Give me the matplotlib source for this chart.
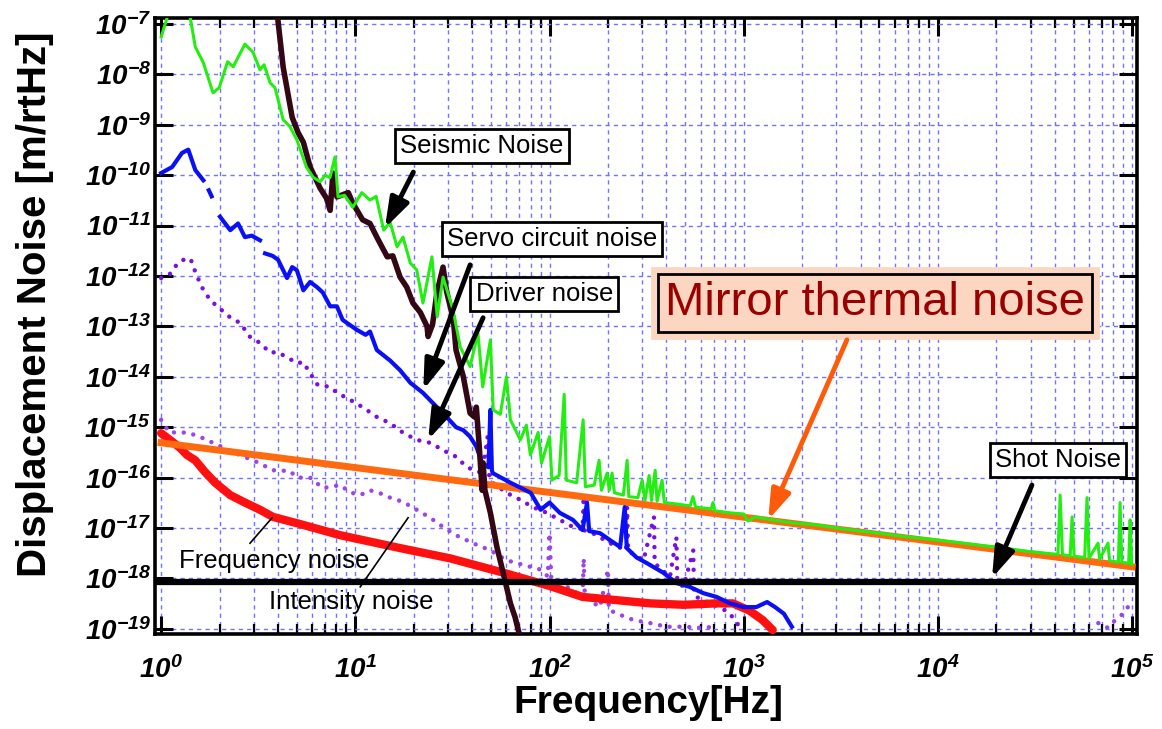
import numpy as np
import matplotlib
matplotlib.use("Agg")
import matplotlib.pyplot as plt
from matplotlib.ticker import LogLocator, NullLocator, NullFormatter, FuncFormatter

plt.rcParams['font.family'] = ['Liberation Sans', 'DejaVu Sans']
plt.rcParams['mathtext.fontset'] = 'custom'
plt.rcParams['mathtext.rm'] = 'Liberation Sans:italic:bold'
plt.rcParams['mathtext.it'] = 'Liberation Sans:italic:bold'
plt.rcParams['mathtext.bf'] = 'Liberation Sans:italic:bold'

# ---- measured spectra (frequency in Hz, displacement in m/rtHz) ----
green_f = [1.00, 1.09, 1.40, 1.50, 1.65, 1.85, 1.99, 2.20, 2.35, 2.70, 2.97, 3.23, 3.39, 3.64,
           3.86, 4.25, 4.61, 5.00, 5.60, 6.06, 6.59, 7.00, 7.40, 7.86, 8.15, 8.80, 9.70, 10.8,
           11.9, 12.8, 14.0, 15.1, 16.4, 17.6, 19.2, 20.7, 22.3, 24.8, 26.4, 28.3, 31.9, 34.7,
           39.0, 42.8, 45.3, 49.6, 51.3, 55.8, 60.0, 62.9, 70.8, 76.0, 79.7, 87.4, 91.0, 100,
           103, 112, 119, 122, 138, 149, 153, 170, 180, 185, 198, 203, 210, 216, 240, 251, 256,
           285, 300, 310, 326, 335, 350, 358, 380, 390, 450, 530, 548, 565, 680, 695, 710, 850,
           1000, 1050, 1150, 1400, 1800, 2300, 3000, 4000, 5000, 6500, 8000, 10000, 13000,
           17000, 22000, 28000, 35000, 41500, 42600, 43800, 48000, 49100, 50300, 57000, 58600,
           60000, 66800, 68000, 75200, 76500, 85000, 86700, 88500, 96000, 97700, 99500]
green_x = [5.5e-8, 1.6e-7, 1.6e-7, 3.5e-8, 1.7e-8, 4.3e-9, 5.4e-9, 1.78e-8, 1.41e-8, 3.98e-8,
           2.75e-8, 1.23e-8, 1.55e-8, 6.8e-9, 5.4e-9, 1.26e-9, 9.1e-10, 5.0e-10, 1.45e-10,
           9.1e-11, 7.4e-11, 1.0e-10, 8.9e-11, 2.3e-10, 3.7e-11, 4.0e-11, 2.3e-11, 4.5e-11,
           3.2e-11, 3.8e-11, 8.1e-12, 1.17e-11, 3.8e-12, 5.9e-12, 1.8e-12, 1.32e-12, 2.9e-13,
           2.4e-12, 1.55e-13, 9.5e-13, 2.1e-13, 3.9e-14, 1.6e-14, 7.4e-14, 6.3e-15, 5.4e-14,
           2.2e-15, 1.8e-15, 1.0e-14, 1.4e-15, 5.6e-16, 1.1e-15, 2.8e-16, 7.9e-16, 1.95e-16,
           6.5e-16, 8.9e-17, 1.1e-16, 4.5e-15, 8.9e-17, 7.9e-17, 1.4e-15, 6.6e-17, 7.1e-17,
           2.2e-16, 5.6e-17, 1.23e-16, 5.6e-17, 1.23e-16, 5.0e-17, 4.5e-17, 2.2e-16, 4.2e-17,
           4.0e-17, 8.9e-17, 3.5e-17, 1.1e-16, 3.5e-17, 1.4e-16, 3.4e-17, 8.9e-17, 3.2e-17,
           3.0e-17, 2.75e-17, 4.2e-17, 2.6e-17, 2.4e-17, 3.2e-17, 2.2e-17, 2.0e-17, 1.9e-17,
           1.38e-17, 1.66e-17, 1.45e-17, 1.26e-17, 1.17e-17, 1.0e-17, 8.7e-18, 7.9e-18,
           6.9e-18, 6.3e-18, 5.75e-18, 5.1e-18, 4.5e-18, 4.0e-18, 3.5e-18, 3.2e-18, 3.0e-18,
           4.5e-17, 2.95e-18, 2.8e-18, 1.66e-17, 2.75e-18, 2.6e-18, 4.0e-17, 2.5e-18, 5.0e-18,
           2.4e-18, 5.0e-18, 2.25e-18, 2.1e-18, 3.2e-17, 2.1e-18, 2.0e-18, 1.45e-17, 1.9e-18]

seismic_f = [3.96, 4.25, 4.73, 5.08, 5.40, 5.85, 6.59, 7.10, 7.42, 7.67, 8.04, 9.20, 9.70,
             10.9, 11.9, 12.9, 14.6, 15.6, 17.0, 18.4, 19.8, 21.6, 23.4, 23.7, 25.0, 26.3,
             28.3, 29.5, 32.0, 33.0, 36.0, 39.0, 41.0, 42.0, 43.5, 45.0, 45.5, 46.5, 49.6,
             53.6, 57.7, 62.9, 66.5, 69.0, 71.0]
seismic_x = [1.6e-7, 1.4e-8, 1.4e-9, 6.9e-10, 4.5e-10, 1.45e-10, 5.5e-11, 3.5e-11, 2.0e-11,
             1.1e-10, 3.7e-11, 4.5e-11, 2.8e-11, 1.3e-11, 1.1e-11, 5.9e-12, 2.4e-12, 2.5e-12,
             9.5e-13, 6.0e-13, 2.9e-13, 1.9e-13, 1.0e-13, 6.3e-14, 1.1e-13, 4.6e-13, 1.5e-12,
             5.0e-13, 1.35e-13, 3.4e-14, 1.0e-14, 1.9e-15, 1.6e-15, 2.5e-15, 4.0e-16, 5.6e-17,
             1.95e-16, 5.6e-17, 2.0e-17, 4.2e-18, 1.3e-18, 3.2e-19, 1.7e-19, 9.5e-20, 6.3e-20]

servo_f = [1.00, 1.14, 1.28, 1.38, 1.50, 1.65, 1.72, 1.76, 1.82, 1.88, 2.01, 2.27, 2.49,
           2.70, 2.93, 3.23, 3.35, 3.43, 3.75, 4.00, 4.45, 4.73, 5.00, 5.40, 5.85, 6.35, 6.80,
           7.42, 8.04, 8.60, 9.06, 10.2, 11.3, 11.9, 12.9, 15.1, 17.0, 19.2, 22.3, 26.3, 29.5,
           33.0, 36.0, 39.0, 42.0, 45.0, 48.5, 49.6, 50.5, 51.0, 63.0, 80.0, 90.0, 100, 113,
           132, 148, 156, 160, 182, 205, 231, 244, 250, 281, 318, 385, 450, 527, 620, 725, 850,
           1000, 1160, 1320, 1450, 1610, 1770]
servo_x = [1.1e-10, 1.45e-10, 2.75e-10, 3.2e-10, 1.26e-10, 7.9e-11, np.nan, 5.0e-11, 3.8e-11,
           np.nan, 1.5e-11, 8.1e-12, 1.1e-11, 5.9e-12, 6.3e-12, 5.1e-12, np.nan, 2.8e-12,
           2.5e-12, 2.1e-12, 9.1e-13, 1.5e-12, 1.3e-12, 5.2e-13, 7.6e-13, 6.0e-13, 4.7e-13,
           2.5e-13, 2.5e-13, 1.35e-13, 1.17e-13, 8.5e-14, 6.8e-14, 7.9e-14, 3.4e-14, 2.1e-14,
           1.35e-14, 7.6e-15, 4.8e-15, 2.5e-15, 1.6e-15, 1.0e-15, 8.7e-16, 6.5e-16, 4.1e-16,
           1.95e-16, 1.6e-16, 2.2e-15, 1.4e-16, 1.23e-16, 7.9e-17, 5.0e-17, 2.3e-17, 3.2e-17,
           2.0e-17, 1.45e-17, 9.1e-18, 3.2e-17, 8.7e-18, 7.9e-18, 5.75e-18, 4.2e-18, 2.6e-17,
           4.0e-18, 2.6e-18, 2.0e-18, 1.3e-18, 8.1e-19, 6.8e-19, 5.1e-19, 4.3e-19, 3.2e-19,
           2.7e-19, 2.7e-19, 3.4e-19, 2.7e-19, 2.0e-19, 1.1e-19]

driver_f = [1.00, 1.11, 1.22, 1.36, 1.43, 1.50, 1.62, 1.79, 1.97, 2.27, 2.55, 2.87, 3.23,
            3.64, 3.95, 4.45, 5.00, 5.40, 5.85, 6.40, 7.42, 8.06, 9.40, 10.9, 12.9, 15.1, 17.6,
            20.7, 24.3, 28.3, 33.0, 37.6, 45.0, 48.0, 49.0, 51.0, 60.0, 71.0, 82.0, 97.0, 113,
            132, 148, 150, 152, 167, 205, 248, 251, 254, 305, 345, 348, 417, 450, 455, 490,
            550, 555, 570, 670, 755, 850, 920, 1000]
driver_x = [9.1e-13, 1.1e-12, 1.8e-12, 2.3e-12, 2.0e-12, 1.2e-12, 6.0e-13, 3.3e-13, 2.4e-13,
            1.5e-13, 1.17e-13, 6.2e-14, 4.7e-14, 3.0e-14, 3.1e-14, 2.45e-14, 1.86e-14, 1.95e-14,
            1.17e-14, 6.9e-15, 6.3e-15, 4.8e-15, 3.5e-15, 2.5e-15, 1.6e-15, 1.2e-15, 7.8e-16,
            5.6e-16, 4.9e-16, 3.5e-16, 2.6e-16, 1.6e-16, 1.23e-16, 6.5e-16, 1.0e-16, 7.9e-17,
            5.0e-17, 3.6e-17, 2.6e-17, 2.0e-17, 1.45e-17, 1.05e-17, 9.5e-18, 4.2e-17, 8.9e-18,
            7.9e-18, 5.0e-18, 3.6e-18, 2.6e-17, 3.5e-18, 2.3e-18, 1.66e-17, 2.0e-18, 1.07e-18,
            6.6e-18, 8.9e-19, 6.8e-19, 3.6e-18, 5.0e-19, 4.3e-19, 3.2e-19, 2.7e-19, 2.0e-19,
            1.3e-19, 9.5e-20]

intensity_f = [1.00, 1.10, 1.38, 1.62, 1.94, 2.35, 3.15, 3.77, 4.61, 5.00, 5.85, 6.80, 8.36,
               9.40, 10.6, 11.9, 13.4, 15.1, 17.6, 20.7, 24.3, 28.3, 33.0, 40.3, 49.6, 60.0,
               73.0, 89.8, 98.0, 100, 102, 123, 148, 150, 152, 182, 200, 202, 223, 270, 330,
               400, 490, 600, 725, 5000, 67000, 75000, 82000, 90000, 97000, 100000]
intensity_x = [1.4e-15, 7.9e-16, 7.8e-16, 6.2e-16, 4.5e-16, 3.2e-16, 2.0e-16, 1.4e-16,
               1.35e-16, 1.0e-16, 1.0e-16, 6.2e-17, 7.1e-17, 5.1e-17, 4.5e-17, 5.6e-17, 4.9e-17,
               4.0e-17, 3.3e-17, 2.3e-17, 1.6e-17, 1.05e-17, 7.2e-18, 5.0e-18, 3.6e-18, 2.3e-18,
               1.86e-18, 1.5e-18, 1.1e-18, 7.9e-18, 1.07e-18, 6.8e-19, 4.3e-19, 2.5e-18, 4.2e-19,
               2.7e-19, 1.5e-18, 2.4e-19, 2.0e-19, 1.5e-19, 1.3e-19, 1.1e-19, 1.1e-19, 1.05e-19,
               1.1e-19, np.nan, 1.3e-19, 1.05e-19, 1.5e-19, 2.0e-19, 3.0e-19, 3.5e-19]

frequency_f = [1.00, 1.11, 1.25, 1.36, 1.50, 1.68, 1.90, 2.27, 2.70, 3.23, 3.77, 5.19, 8.36,
               17.0, 30.8, 55.8, 100, 148, 223, 330, 490, 725, 880, 1070, 1250, 1410]
frequency_x = [7.6e-16, 5.6e-16, 3.9e-16, 2.8e-16, 2.2e-16, 1.3e-16, 7.9e-17, 4.5e-17,
               3.2e-17, 2.3e-17, 1.66e-17, 1.2e-17, 7.2e-18, 4.0e-18, 2.5e-18, 1.35e-18,
               7.1e-19, 4.3e-19, 3.7e-19, 3.2e-19, 3.0e-19, 3.2e-19, 3.2e-19, 2.3e-19,
               1.5e-19, 9.5e-20]

thermal_f = [1.0, 1.0e5]
thermal_x = [4.9e-16, 1.7e-18]

shot_f = [0.9, 1.1e5]
shot_x = [8.5e-19, 8.5e-19]

W, H = 1162, 729
fig = plt.figure(figsize=(W / 100, H / 100), dpi=100)
ax = fig.add_axes([155 / W, 1 - 634 / H, 982 / W, 616 / H])

dots = (0, (0.01, 2.2))
ax.plot(intensity_f, intensity_x, color='#9b45ea', lw=3.2, ls=dots, dash_capstyle='round', zorder=2)
ax.plot(driver_f, driver_x, color='#7a10e0', lw=3.2, ls=dots, dash_capstyle='round', zorder=3)
ax.plot(frequency_f, frequency_x, color='#ff1010', lw=6, solid_capstyle='round', zorder=4)
ax.plot(thermal_f, thermal_x, color='#ff6a10', lw=5, zorder=5)
ax.plot(servo_f, servo_x, color='#0a10f5', lw=3, zorder=6)
ax.plot(seismic_f, seismic_x, color='#330814', lw=4, zorder=7)
ax.plot(green_f, green_x, color='#22ee11', lw=2.2, zorder=8)
ax.plot(shot_f, shot_x, color='black', lw=4.5, zorder=9)

ax.set_xscale('log')
ax.set_yscale('log')
ax.set_xlim(0.93, 1.06e5)
ax.set_ylim(7.9e-20, 1.31e-7)

ax.xaxis.set_major_locator(LogLocator(base=10, numticks=12))
ax.xaxis.set_minor_locator(LogLocator(base=10, subs=np.arange(2, 10), numticks=12))
ax.xaxis.set_minor_formatter(NullFormatter())
ax.yaxis.set_major_locator(LogLocator(base=10, numticks=20))
ax.yaxis.set_minor_locator(NullLocator())
decade = FuncFormatter(lambda v, pos: r'$10^{%d}$' % round(np.log10(v)))
ax.xaxis.set_major_formatter(decade)
ax.yaxis.set_major_formatter(decade)

ax.tick_params(which='both', direction='in', top=True, right=True, labelsize=20)
ax.tick_params(axis='x', which='major', length=13, width=2.2, pad=16)
ax.tick_params(axis='x', which='minor', length=7, width=1.6)
ax.tick_params(axis='y', which='major', length=13, width=2.2, pad=3)
for s in ax.spines.values():
    s.set_linewidth(2.6)

ax.grid(True, which='major', axis='both', color='#7272ff', ls=(0, (3, 3)), lw=1)
ax.grid(True, which='minor', axis='x', color='#7272ff', ls=(0, (3, 3)), lw=1)

fig.text(35 / W, 1 - 304 / H, 'Displacement Noise [m/rtHz]', rotation=90,
         ha='center', va='center', fontsize=29, fontweight='bold')
fig.text(648 / W, 1 - 703 / H, 'Frequency[Hz]', ha='center', va='center',
         fontsize=28, fontweight='bold')

box = dict(boxstyle='square,pad=0.2', fc='white', ec='black', lw=2)
arrow = dict(arrowstyle='-|>,head_length=0.9,head_width=0.3', color='black', lw=3.5,
             mutation_scale=20, shrinkA=0, shrinkB=0)

ax.text(45, 3.8e-10, 'Seismic Noise', ha='center', va='center', fontsize=18.5, bbox=box, zorder=20)
ax.annotate('', xy=(14.2, 8.9e-12), xytext=(19.9, 1.15e-10), arrowprops=arrow, zorder=20)

ax.text(103, 5.4e-12, 'Servo circuit noise', ha='center', va='center', fontsize=18.5, bbox=box, zorder=20)
ax.annotate('', xy=(22.4, 5.5e-15), xytext=(39, 1.66e-12), arrowprops=arrow, zorder=20)

ax.text(94, 4.4e-13, 'Driver noise', ha='center', va='center', fontsize=18.5, bbox=box, zorder=20)
ax.annotate('', xy=(23.7, 5.6e-16), xytext=(45.5, 1.48e-13), arrowprops=arrow, zorder=20)

ax.text(41600, 2.24e-16, 'Shot Noise', ha='center', va='center', fontsize=18.5, bbox=box, zorder=20)
ax.annotate('', xy=(19000, 1.02e-18), xytext=(30500, 7.1e-17), arrowprops=arrow, zorder=20)

# mirror thermal noise label: peach box with black frame inside a peach rim
for pad, ec in ((0.28, '#fdd6c2'), (0.15, 'black')):
    ax.text(4750, 2.9e-13, 'Mirror thermal noise', ha='center', va='center', fontsize=34,
            color='#990000', zorder=20,
            bbox=dict(boxstyle='square,pad=%s' % pad, fc='#fdd6c2', ec=ec, lw=2))
ax.annotate('', xy=(1336, 1.45e-17), xytext=(3400, 5.4e-14), zorder=20,
            arrowprops=dict(arrowstyle='-|>,head_length=0.9,head_width=0.3', color='#ff5a0a',
                            lw=3.5, mutation_scale=20, shrinkA=0, shrinkB=0))

ax.text(3.82, 2.2e-18, 'Frequency noise', ha='center', va='center', fontsize=18.5, zorder=20)
ax.plot([2.87, 3.73], [5.0e-18, 1.6e-17], color='black', lw=1.2, zorder=20)
ax.text(9.57, 3.4e-19, 'Intensity noise', ha='center', va='center', fontsize=18.5, zorder=20)
ax.plot([10.6, 18.7], [6.8e-19, 1.6e-17], color='black', lw=1.2, zorder=20)

fig.savefig('out.png', dpi=100)
